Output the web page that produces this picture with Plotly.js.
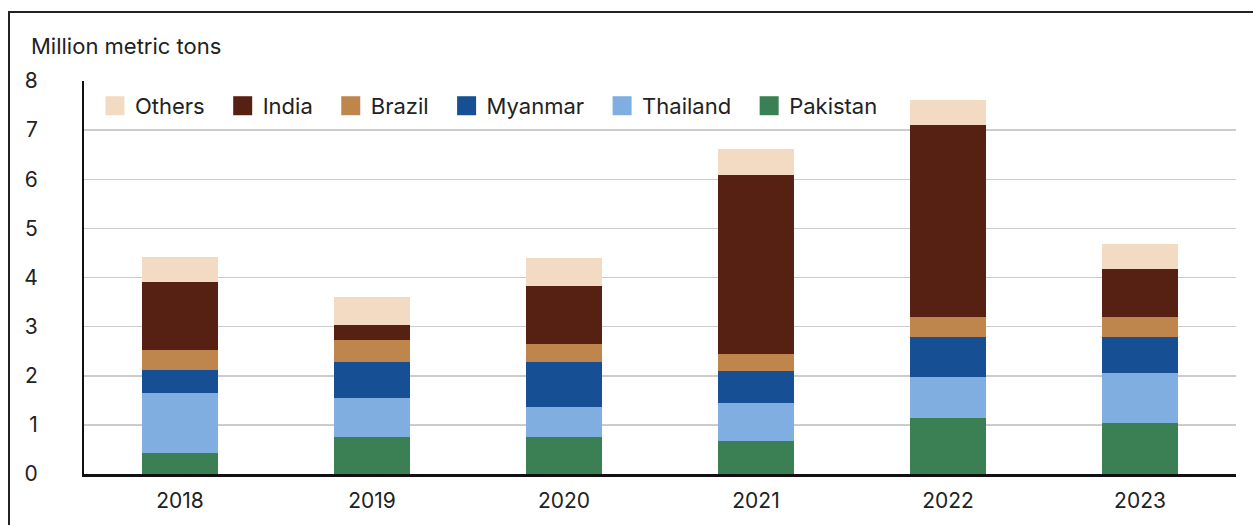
<!DOCTYPE html>
<html>
<head>
<meta charset="utf-8">
<script src="https://cdn.plot.ly/plotly-3.0.1.min.js"></script>
<style>
  html, body { margin: 0; padding: 0; background: #fff; }
  #frame { position: absolute; left: 8px; top: 11px; width: 1260px; height: 530px; border: 2px solid #222; }
  #chart { position: absolute; left: 0; top: 0; width: 1253px; height: 525px; }
</style>
</head>
<body>
<div id="frame"></div>
<div id="chart"></div>
<script>
var years = ['2018', '2019', '2020', '2021', '2022', '2023'];

var pakistan = [0.43, 0.76, 0.76, 0.68, 1.15, 1.04];
var thailand = [1.21, 0.79, 0.60, 0.76, 0.82, 1.02];
var myanmar  = [0.48, 0.73, 0.91, 0.66, 0.81, 0.72];
var brazil   = [0.41, 0.44, 0.38, 0.34, 0.42, 0.42];
var india    = [1.38, 0.31, 1.18, 3.64, 3.91, 0.97];
var others   = [0.50, 0.57, 0.57, 0.54, 0.51, 0.52];

var yTicks = [0, 1, 2, 3, 4, 5, 6, 7, 8];

function bar(name, y, color) {
  return { x: years, y: y, name: name, type: 'bar', marker: { color: color, line: { width: 0 } }, hoverinfo: 'name+y' };
}

var data = [
  bar('Pakistan', pakistan, '#3b7f55'),
  bar('Thailand', thailand, '#80aee0'),
  bar('Myanmar', myanmar, '#164f93'),
  bar('Brazil', brazil, '#be864d'),
  bar('India', india, '#562013'),
  bar('Others', others, '#f3dbc3')
];

var layout = {
  width: 1253,
  height: 525,
  margin: { l: 84, r: 17, t: 81, b: 51 },
  paper_bgcolor: 'rgba(0,0,0,0)',
  plot_bgcolor: 'rgba(0,0,0,0)',
  font: { family: 'Inter, Roboto, sans-serif', size: 21, color: '#222' },
  barmode: 'stack',
  bargap: 0.6,
  showlegend: true,
  legend: {
    orientation: 'h',
    traceorder: 'reversed',
    x: 0.0095, y: 0.99, xanchor: 'left', yanchor: 'top',
    font: { size: 22, color: '#222' },
    bgcolor: 'rgba(0,0,0,0)'
  },
  xaxis: {
    type: 'category',
    showline: true, linecolor: '#111', linewidth: 2.5,
    ticks: '', showgrid: false,
    ticklabelstandoff: 6,
    tickfont: { size: 21 }
  },
  yaxis: {
    range: [0, 8],
    tickvals: yTicks,
    showline: true, linecolor: '#111', linewidth: 2,
    showgrid: true, gridcolor: '#cccccc', gridwidth: 1.5,
    zeroline: false,
    ticks: '',
    ticklabelstandoff: 40,
    tickfont: { size: 21 }
  },
  annotations: [{
    text: 'Million metric tons',
    xref: 'paper', yref: 'paper',
    x: -0.048, y: 1.089, xanchor: 'left', yanchor: 'middle',
    showarrow: false,
    font: { size: 22, color: '#222' }
  }]
};

Plotly.newPlot('chart', data, layout, { displayModeBar: false, staticPlot: true }).then(function (gd) {
  // bigger legend swatches and a bit more room between entries
  gd.querySelectorAll('.legend .legendpoints path').forEach(function (p) {
    p.setAttribute('d', 'M9.5,9.5H-9.5V-9.5H9.5Z');
  });
  gd.querySelectorAll('.legend .traces').forEach(function (t, i) {
    var m = /translate\(([-\d.]+),\s*([-\d.]+)\)/.exec(t.getAttribute('transform') || '');
    if (m) t.setAttribute('transform', 'translate(' + (parseFloat(m[1]) + i * 13) + ',' + m[2] + ')');
  });
  gd.querySelectorAll('.legend .scrollbox').forEach(function (s) {
    s.removeAttribute('clip-path');
  });
});
</script>
</body>
</html>
